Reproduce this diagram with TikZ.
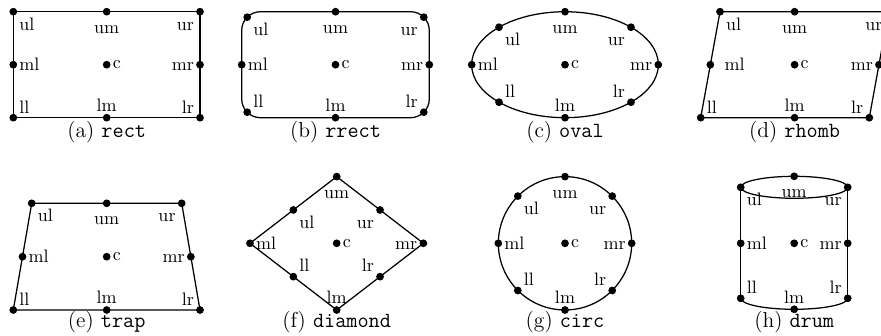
\documentclass[tikz,border=0pt]{standalone}
\newcommand\putdot[5]{\node[dotn] (#1) at (#2,#3) {}; \node[#4] (#1-t) at (#1.center) {#5};}
\begin{document}
\begin{tikzpicture}[x=0.555pt,y=-0.555pt,
  dotn/.style={circle, fill=black, inner sep=0pt, minimum size=4.3pt},
  lbl/.style={inner sep=3.2pt, text height=1.6ex, text depth=0pt, font=\fontsize{10}{12}\selectfont},
  lblc/.style={inner sep=3.2pt, font=\fontsize{10}{12}\selectfont},
  pul/.style={lbl, anchor=north west},
  pum/.style={lbl, anchor=north, yshift=-1.6pt},
  pur/.style={lbl, anchor=north east},
  pml/.style={lbl, anchor=west},
  pc/.style={lblc, anchor=west},
  pmr/.style={lbl, anchor=east},
  pll/.style={lbl, anchor=south west, yshift=-0.8pt},
  plm/.style={lbl, anchor=south},
  plr/.style={lbl, anchor=south east, yshift=-0.8pt},
  shp/.style={draw=black, line width=0.7pt},
  captxt/.style={font=\fontsize{12}{14}\selectfont, anchor=base, inner sep=0pt}]
\useasboundingbox (0,0) rectangle (881,335);
\path[clip] (0,0) rectangle (881,335);

% (a) rect
\putdot{a-ul}{13.3}{11.7}{pul}{ul}
\putdot{a-um}{106.7}{11.7}{pum}{um}
\putdot{a-ur}{200}{11.7}{pur}{ur}
\putdot{a-ml}{13.3}{64.7}{pml}{ml}
\putdot{a-c}{106.7}{64.7}{pc}{c}
\putdot{a-mr}{200}{64.7}{pmr}{mr}
\putdot{a-ll}{13.3}{117.7}{pll}{ll}
\putdot{a-lm}{106.7}{117.7}{plm}{lm}
\putdot{a-lr}{200}{117.7}{plr}{lr}
\draw[shp] (a-ul.center) -- (a-ur.center) -- (a-lr.center) -- (a-ll.center) -- cycle;
\node[captxt] (capa) at (106.7,137) {(a) \texttt{rect}};

% (b) rrect
\putdot{b-ul}{247.2}{17.2}{pul}{ul}
\putdot{b-um}{335.5}{11.7}{pum}{um}
\putdot{b-ur}{423.8}{17.2}{pur}{ur}
\putdot{b-ml}{241.7}{64.7}{pml}{ml}
\putdot{b-c}{335.5}{64.7}{pc}{c}
\putdot{b-mr}{429.3}{64.7}{pmr}{mr}
\putdot{b-ll}{247.2}{112.2}{pll}{ll}
\putdot{b-lm}{335.5}{117.7}{plm}{lm}
\putdot{b-lr}{423.8}{112.2}{plr}{lr}
\draw[shp, rounded corners=10.4pt] (b-ml.center |- b-um.center) rectangle (b-mr.center |- b-lm.center);
\node[captxt] (capb) at (335.5,137) {(b) \texttt{rrect}};

% (c) oval
\putdot{c-ul}{499}{27.2}{pul}{ul}
\putdot{c-um}{565}{11.7}{pum}{um}
\putdot{c-ur}{631}{27.2}{pur}{ur}
\putdot{c-ml}{471.7}{64.7}{pml}{ml}
\putdot{c-c}{565}{64.7}{pc}{c}
\putdot{c-mr}{658.3}{64.7}{pmr}{mr}
\putdot{c-ll}{499}{102.2}{pll}{ll}
\putdot{c-lm}{565}{117.7}{plm}{lm}
\putdot{c-lr}{631}{102.2}{plr}{lr}
\draw[shp] (c-c.center) ellipse [x radius=51.8pt, y radius=29.4pt];
\node[captxt] (capc) at (565,137) {(c) \texttt{oval}};

% (d) rhomb
\putdot{d-ul}{720}{11.7}{pul}{ul}
\putdot{d-um}{794.6}{11.7}{pum}{um}
\putdot{d-ur}{888.6}{11.7}{pur}{ur}
\putdot{d-ml}{710.35}{64.7}{pml, xshift=4.5pt}{ml}
\putdot{d-c}{794.6}{64.7}{pc}{c}
\putdot{d-mr}{878.95}{64.7}{pmr}{mr}
\putdot{d-ll}{700.7}{117.7}{pll}{ll}
\putdot{d-lm}{794.6}{117.7}{plm}{lm}
\putdot{d-lr}{869.3}{117.7}{plr}{lr}
\draw[shp] (d-ul.center) -- (d-ur.center) -- (d-lr.center) -- (d-ll.center) -- cycle;
\node[captxt] (capd) at (794.6,137) {(d) \texttt{rhomb}};

% (e) trap
\putdot{e-ul}{31.7}{203.3}{pul}{ul}
\putdot{e-um}{106.7}{203.3}{pum}{um}
\putdot{e-ur}{181.7}{203.3}{pur}{ur}
\putdot{e-ml}{22.5}{256.7}{pml}{ml}
\putdot{e-c}{106.7}{256.7}{pc}{c}
\putdot{e-mr}{190.85}{256.7}{pmr}{mr}
\putdot{e-ll}{13.3}{310}{pll}{ll}
\putdot{e-lm}{106.7}{310}{plm}{lm}
\putdot{e-lr}{200}{310}{plr}{lr}
\draw[shp] (e-ul.center) -- (e-ur.center) -- (e-lr.center) -- (e-ll.center) -- cycle;
\node[captxt] (cape) at (106.7,327) {(e) \texttt{trap}};

% (f) diamond
\putdot{f-ul}{293.35}{209.95}{pul}{ul}
\putdot{f-um}{336.7}{176.6}{pum}{um}
\putdot{f-ur}{380.05}{209.95}{pur}{ur}
\putdot{f-ml}{250}{243.3}{pml}{ml}
\putdot{f-c}{336.7}{243.3}{pc}{c}
\putdot{f-mr}{423.4}{243.3}{pmr}{mr}
\putdot{f-ll}{293.35}{276.65}{pll}{ll}
\putdot{f-lm}{336.7}{310}{plm}{lm}
\putdot{f-lr}{380.05}{276.65}{plr}{lr}
\draw[shp] (f-um.center) -- (f-mr.center) -- (f-lm.center) -- (f-ml.center) -- cycle;
\node[captxt] (capf) at (336.7,327) {(f) \texttt{diamond}};

% (g) circ
\putdot{g-ul}{517.8}{196.1}{pul}{ul}
\putdot{g-um}{565}{176.6}{pum}{um}
\putdot{g-ur}{612.2}{196.1}{pur}{ur}
\putdot{g-ml}{498.3}{243.3}{pml}{ml}
\putdot{g-c}{565}{243.3}{pc}{c}
\putdot{g-mr}{631.7}{243.3}{pmr}{mr}
\putdot{g-ll}{517.8}{290.5}{pll}{ll}
\putdot{g-lm}{565}{310}{plm}{lm}
\putdot{g-lr}{612.2}{290.5}{plr}{lr}
\draw[shp] (g-c.center) circle [radius=37pt];
\node[captxt] (capg) at (565,327) {(g) \texttt{circ}};

% (h) drum
\putdot{h-ul}{740.7}{187.3}{pul}{ul}
\putdot{h-um}{794.2}{176.3}{pum}{um}
\putdot{h-ur}{847.7}{187.3}{pur}{ur}
\putdot{h-ml}{740.7}{243.3}{pml}{ml}
\putdot{h-c}{794.2}{243.3}{pc}{c}
\putdot{h-mr}{847.7}{243.3}{pmr}{mr}
\putdot{h-ll}{740.7}{298.3}{pll}{ll}
\putdot{h-lm}{794.2}{309.3}{plm}{lm}
\putdot{h-lr}{847.7}{298.3}{plr}{lr}
\draw[shp] (h-c.center |- h-ul.center) ellipse [x radius=29.7pt, y radius=6.1pt];
\draw[shp] (h-ul.center) -- (h-ll.center);
\draw[shp] (h-ur.center) -- (h-lr.center);
\draw[shp] (h-ll.center) arc [start angle=180, end angle=360, x radius=29.7pt, y radius=6.1pt];
\node[captxt] (caph) at (794.2,327) {(h) \texttt{drum}};
\end{tikzpicture}
\end{document}
